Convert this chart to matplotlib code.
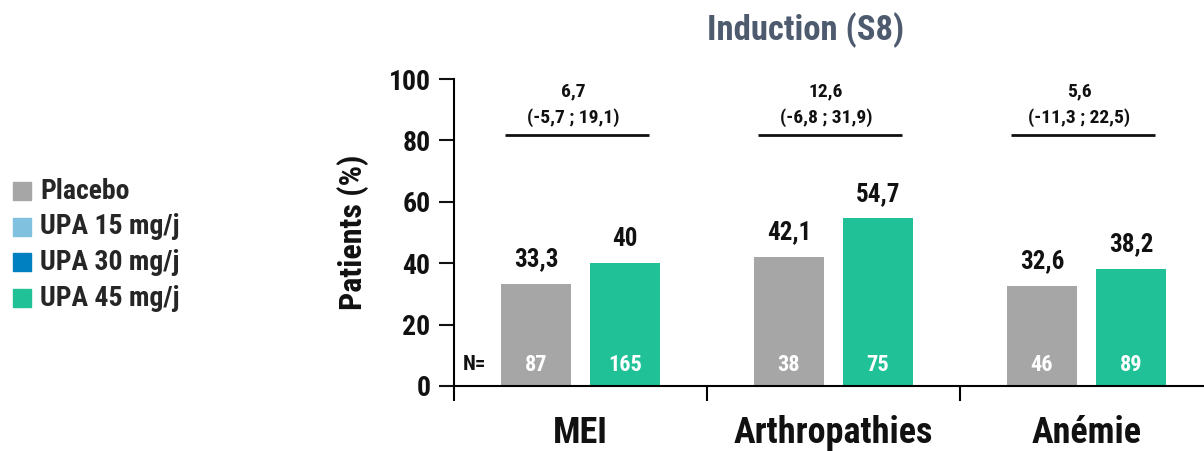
import matplotlib
matplotlib.use('Agg')
import matplotlib.pyplot as plt
from matplotlib.patches import Rectangle

# condensed bold face for every text
plt.rcParams['font.family'] = ['Roboto Condensed', 'DejaVu Sans']
plt.rcParams['font.weight'] = 'bold'
plt.rcParams['axes.labelweight'] = 'bold'

categories = ['MEI', 'Arthropathies', 'Anémie']
placebo = [33.3, 42.1, 32.6]
upa45 = [40, 54.7, 38.2]
n_placebo = [87, 38, 46]
n_upa45 = [165, 75, 89]
diff = ['6,7', '12,6', '5,6']
ci = ['(-5,7 ; 19,1)', '(-6,8 ; 31,9)', '(-11,3 ; 22,5)']
legend_labels = ['Placebo', 'UPA 15 mg/j', 'UPA 30 mg/j', 'UPA 45 mg/j']
legend_colors = ['#A6A6A6', '#7FC1DF', '#0080C0', '#21C197']

GRAY = '#A6A6A6'
GREEN = '#21C197'
TXT = '#111111'

def fmt(v):
    s = ('%.1f' % v).rstrip('0').rstrip('.')
    return s.replace('.', ',')

fig = plt.figure(figsize=(12.04, 4.51), dpi=100)
ax = fig.add_axes([454/1204, 1 - 386/451, 1 - 454/1204, 307/451])

x = range(len(categories))
off, w = 0.176, 0.277
for i in x:
    ax.bar(i - off, placebo[i], w, color=GRAY)
    ax.bar(i + off, upa45[i], w, color=GREEN)
    ax.text(i - off, placebo[i] + 4, fmt(placebo[i]), ha='center', va='bottom', fontsize=18, color=TXT)
    ax.text(i + off, upa45[i] + 4, fmt(upa45[i]), ha='center', va='bottom', fontsize=18, color=TXT)
    ax.text(i - off, 7, str(n_placebo[i]), ha='center', va='center', fontsize=16, color='white')
    ax.text(i + off, 7, str(n_upa45[i]), ha='center', va='center', fontsize=16, color='white')
    # difference bracket
    ax.plot([i - 0.30, i + 0.27], [81.8, 81.8], color=TXT, lw=2, solid_capstyle='butt')
    ax.text(i - 0.03, 96, diff[i], ha='center', va='center', fontsize=14, color=TXT)
    ax.text(i - 0.03, 87.5, ci[i], ha='center', va='center', fontsize=14, color=TXT)

ax.text(-0.42, 7, 'N=', ha='center', va='center', fontsize=15, color=TXT)

ax.set_ylim(0, 100)
ax.set_xlim(-0.5, (1204 - 454) / 253 - 0.5)
ax.set_yticks([0, 20, 40, 60, 80, 100])
ax.tick_params(axis='y', labelsize=20, length=11, width=1.5, colors=TXT, pad=6)
ax.set_xticks([-0.5, 0.5, 1.5])
ax.set_xticklabels([])
ax.tick_params(axis='x', length=11, width=1.5, direction='out')
for i, c in enumerate(categories):
    ax.text(i, -9.5, c, ha='center', va='top', fontsize=26, color=TXT, clip_on=False)
ax.spines['top'].set_visible(False)
ax.spines['right'].set_visible(False)
ax.spines['left'].set_linewidth(1.5)
ax.spines['bottom'].set_linewidth(1.5)
ax.set_ylabel('Patients (%)', fontsize=23, color=TXT, labelpad=14)

fig.text(806/1204, 1 - 30/451, 'Induction (S8)', ha='center', va='center', fontsize=25, color='#4E5A6E')

# legend on the left
for k, (lab, col) in enumerate(zip(legend_labels, legend_colors)):
    yc = 1 - (191 + 35.7 * k) / 451
    fig.patches.append(Rectangle((13/1204, yc - 9/451), 18/1204, 18/451, transform=fig.transFigure, color=col))
    fig.text(40/1204, yc, lab, ha='left', va='center', fontsize=20, color='#262626')

fig.savefig('out.png', dpi=100)
